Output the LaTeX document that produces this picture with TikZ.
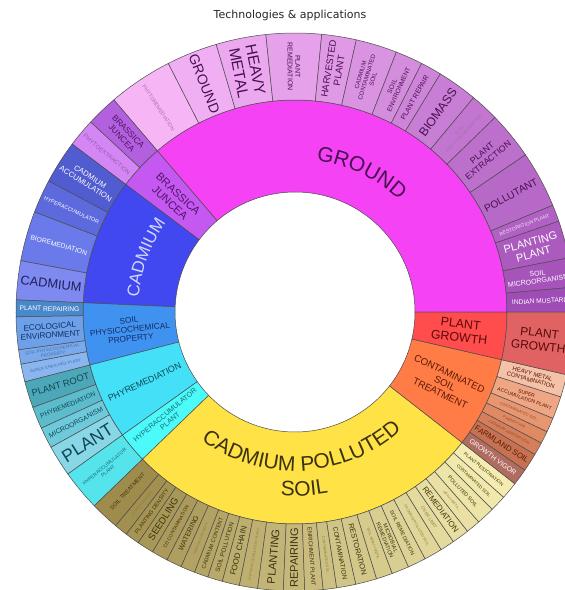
\documentclass[tikz,border=0pt]{standalone}
\usepackage{fontspec}
\setmainfont{Liberation Sans}
\newfontfamily\titlefont{DejaVu Sans}
\usetikzlibrary{decorations.text}

% inner ring colours
\definecolor{gnd}{RGB}{245,66,245}
\definecolor{bras}{RGB}{196,88,240}
\definecolor{cadm}{RGB}{66,72,240}
\definecolor{sphys}{RGB}{64,146,240}
\definecolor{phyr}{RGB}{68,224,248}
\definecolor{hyper}{RGB}{76,250,250}
\definecolor{ysoil}{RGB}{255,226,70}
\definecolor{ctreat}{RGB}{255,124,70}
\definecolor{pgrow}{RGB}{255,76,76}
% outer ring colours
\definecolor{glight}{RGB}{246,182,246}
\definecolor{gdark}{RGB}{160,76,182}
\definecolor{brdark}{RGB}{178,96,222}
\definecolor{brlight}{RGB}{212,134,244}
\definecolor{cd1}{RGB}{80,92,208}
\definecolor{cd2}{RGB}{92,106,222}
\definecolor{cd3}{RGB}{106,122,234}
\definecolor{cd4}{RGB}{126,138,240}
\definecolor{sp1}{RGB}{74,136,204}
\definecolor{sp2}{RGB}{108,160,232}
\definecolor{sp3}{RGB}{122,170,236}
\definecolor{sp4}{RGB}{138,182,240}
\definecolor{ph1}{RGB}{76,168,184}
\definecolor{ph2}{RGB}{92,188,204}
\definecolor{ph3}{RGB}{110,202,218}
\definecolor{ph4}{RGB}{136,214,230}
\definecolor{hy1}{RGB}{86,228,236}
\definecolor{ydark}{RGB}{158,140,76}
\definecolor{ylight}{RGB}{244,236,176}
\definecolor{ct1}{RGB}{176,108,96}
\definecolor{ct2}{RGB}{198,114,82}
\definecolor{ct3}{RGB}{214,126,90}
\definecolor{ct4}{RGB}{224,138,100}
\definecolor{ct5}{RGB}{232,150,112}
\definecolor{ct6}{RGB}{238,166,132}
\definecolor{ct7}{RGB}{244,194,168}
\definecolor{pg1}{RGB}{224,98,98}
% text colours
\definecolor{gtxt}{RGB}{72,16,80}
\definecolor{gfade}{RGB}{170,110,175}
\definecolor{brtxt}{RGB}{80,20,100}
\definecolor{brfade}{RGB}{150,90,180}
\definecolor{cdtxtin}{RGB}{210,215,255}
\definecolor{cdtxt}{RGB}{30,30,90}
\definecolor{sptxt}{RGB}{20,45,100}
\definecolor{spfade}{RGB}{70,110,170}
\definecolor{phtxt}{RGB}{15,70,85}
\definecolor{hytxt}{RGB}{20,110,120}
\definecolor{ytxt}{RGB}{60,50,15}
\definecolor{yfade}{RGB}{140,125,70}
\definecolor{cttxt}{RGB}{90,25,5}
\definecolor{ctfade}{RGB}{150,80,50}
\definecolor{pgtxt}{RGB}{90,10,10}

\tikzset{
  segline/.style={draw=black!70, line width=0.5pt},
  seglabel/.style={inner sep=0pt, align=center},
}

\newcommand{\lfont}[1]{\fontsize{#1}{#1}\linespread{1.1}\selectfont}

% annular wedge: start, end, inner radius, outer radius, fill
\newcommand{\ringseg}[5]{%
  \filldraw[segline, fill=#5] (#1:#3) arc[start angle=#1, end angle=#2, radius=#3pt]
    -- (#2:#4) arc[start angle=#2, end angle=#1, radius=#4pt] -- cycle;}

% radial label: name, start, end, radius, size, colour, text
\newcommand{\radlabel}[7]{%
  \pgfmathsetmacro{\midang}{(#2+#3)/2}%
  \pgfmathsetmacro{\radrot}{ifthenelse(cos(\midang)<0,\midang+180,\midang)}%
  \node[seglabel, text=#6, font=\lfont{#5}, rotate=\radrot] (#1) at (\midang:#4) {#7};}

% outer ring wedge with its label: name, start, end, fill, size, colour, text
\newcommand{\outerpart}[7]{%
  \ringseg{#2}{#3}{212}{279}{#4}%
  \radlabel{#1}{#2}{#3}{245.5}{#5}{#6}{#7}}

\begin{document}
\begin{tikzpicture}[x=1pt, y=1pt]

  % frame in pixels, centre of the rings at the origin
  \useasboundingbox (-295,-278) rectangle (270,312);
  \fill[white] (-295,-278) rectangle (270,312);
  \clip (-295,-278) rectangle (270,312);

  \node[font=\titlefont\fontsize{11}{13}\selectfont, text=black!85] (title) at (-5,297) {Technologies \& applications};

  % 1. GROUND
  \ringseg{0}{130.5}{120}{212}{gnd}
  \path[decorate, decoration={text along path, text align=center, text color=gtxt,
    text={|\lfont{21}|GROUND}}] (110:153) arc[start angle=110, end angle=19, radius=153pt];
  \outerpart{o-phyto}{117}{130.5}{gdark!0!glight}{5.2}{gfade}{PHYTOREMEDIATION}
  \outerpart{o-ground}{106.4}{117}{gdark!7!glight}{14}{gtxt}{GROUND}
  \outerpart{o-heavy}{96}{106.4}{gdark!13!glight}{15.5}{gtxt}{HEAVY\\METAL}
  \outerpart{o-plrem}{84.5}{96}{gdark!20!glight}{7}{gtxt}{PLANT\\REMEDIATION}
  \outerpart{o-harv}{77.3}{84.5}{gdark!27!glight}{9.5}{gtxt}{HARVESTED\\PLANT}
  \outerpart{o-cdsoil}{68.7}{77.3}{gdark!33!glight}{6}{gtxt}{CADMIUM\\CONTAMINATED\\SOIL}
  \outerpart{o-soilenv}{63}{68.7}{gdark!40!glight}{6.5}{gtxt}{SOIL\\ENVIRONMENT}
  \outerpart{o-plrep}{58.6}{63}{gdark!47!glight}{7}{gtxt}{PLANT REPAIR}
  \outerpart{o-biomass}{50.2}{58.6}{gdark!53!glight}{12.3}{gtxt}{BIOMASS}
  \outerpart{o-soilphy}{44.2}{50.2}{gdark!60!glight}{4.8}{gfade}{SOIL\\PHYTOREMEDIATION}
  \outerpart{o-plext}{34.3}{44.2}{gdark!67!glight}{8.7}{gtxt}{PLANT\\EXTRACTION}
  \outerpart{o-pollut}{22.5}{34.3}{gdark!73!glight}{10.2}{gtxt}{POLLUTANT}
  \outerpart{o-restpl}{19}{22.5}{gdark!80!glight}{5}{white!85!gdark}{RESTORATION PLANT}
  \outerpart{o-plpl}{11.2}{19}{gdark!87!glight}{11}{white}{PLANTING\\PLANT}
  \outerpart{o-soilmic}{5.1}{11.2}{gdark!93!glight}{7}{white}{SOIL\\MICROORGANISM}
  \outerpart{o-indian}{0}{5.1}{gdark!100!glight}{6.6}{white}{INDIAN MUSTARD}

  % 2. BRASSICA JUNCEA
  \ringseg{130.5}{143}{120}{212}{bras}
  \radlabel{i-bras}{130.5}{143}{166}{11}{brtxt}{BRASSICA\\JUNCEA}
  \outerpart{o-brass}{130.5}{137.1}{brdark}{8.4}{brtxt}{BRASSICA\\JUNCEA}
  \outerpart{o-phyext}{137.1}{143}{brlight}{6}{brfade}{PHYTOEXTRACTION}

  % 3. CADMIUM
  \ringseg{143}{177.5}{120}{212}{cadm}
  \path[decorate, decoration={text along path, text align=center, text color=cdtxtin,
    text={|\lfont{17}|CADMIUM}}] (190:157) arc[start angle=190, end angle=130, radius=157pt];
  \outerpart{o-cdacc}{143}{152}{cd1}{7.6}{white}{CADMIUM\\ACCUMULATION}
  \outerpart{o-hyper}{152}{159}{cd2}{5.4}{white}{HYPERACCUMULATOR}
  \outerpart{o-biorem}{159}{169.4}{cd3}{6.8}{white}{BIOREMEDIATION}
  \outerpart{o-cadm}{169.4}{177.5}{cd4}{12.8}{cdtxt}{CADMIUM}

  % 4. SOIL PHYSICOCHEMICAL PROPERTY
  \ringseg{177.5}{194.5}{120}{212}{sphys}
  \radlabel{i-sphys}{177.5}{194.5}{166}{8.3}{sptxt}{SOIL\\PHYSICOCHEMICAL\\PROPERTY}
  \outerpart{o-plrepg}{177.5}{181}{sp1}{6.7}{white}{PLANT REPAIRING}
  \outerpart{o-ecol}{181}{187.8}{sp2}{8.1}{sptxt}{ECOLOGICAL\\ENVIRONMENT}
  \outerpart{o-sphys}{187.8}{190.8}{sp3}{4.5}{spfade}{SOIL PHYSICOCHEMICAL\\PROPERTY}
  \outerpart{o-supen}{190.8}{194.5}{sp4}{4.2}{spfade}{SUPER ENRICHED PLANT}

  % 5. PHYREMEDIATION
  \ringseg{194.5}{215.5}{120}{212}{phyr}
  \radlabel{i-phyr}{194.5}{215.5}{166}{8.9}{phtxt}{PHYREMEDIATION}
  \outerpart{o-root}{194.5}{200}{ph1}{9.4}{phtxt}{PLANT ROOT}
  \outerpart{o-phyrem}{200}{204.6}{ph2}{6.6}{phtxt}{PHYREMEDIATION}
  \outerpart{o-micro}{204.6}{209}{ph3}{6.8}{phtxt}{MICROORGANISM}
  \outerpart{o-plant}{209}{215.5}{ph4}{17.6}{phtxt}{PLANT}

  % 6. HYPERACCUMULATOR PLANT
  \ringseg{215.5}{224}{120}{212}{hyper}
  \radlabel{i-hyper}{215.5}{224}{166}{7.2}{hytxt}{HYPERACCUMULATOR\\PLANT}
  \outerpart{o-hypl}{215.5}{224}{hy1}{5}{hytxt}{HYPERACCUMULATOR\\PLANT}

  % 7. CADMIUM POLLUTED SOIL
  \ringseg{224}{322}{120}{212}{ysoil}
  \path[decorate, decoration={text along path, text align=center, text color=ytxt,
    text={|\lfont{21}|CADMIUM POLLUTED}}] (228:159) arc[start angle=228, end angle=318, radius=159pt];
  \path[decorate, decoration={text along path, text align=center, text color=ytxt,
    text={|\lfont{21}|SOIL}}] (248:184) arc[start angle=248, end angle=298, radius=184pt];
  \outerpart{o-y1}{224}{230}{ydark!100!ylight}{5.6}{ytxt}{SOIL TREATMENT}
  \outerpart{o-y2}{230}{232.8}{ydark!96!ylight}{3.5}{yfade}{STRENGTHENING}
  \outerpart{o-y3}{232.8}{235.8}{ydark!92!ylight}{5.6}{ytxt}{PLANTING DENSITY}
  \outerpart{o-y4}{235.8}{239.3}{ydark!88!ylight}{9.5}{ytxt}{SEEDLING}
  \outerpart{o-y5}{239.3}{242.7}{ydark!85!ylight}{4.8}{ytxt}{CD CONTAMINATION}
  \outerpart{o-y6}{242.7}{245.9}{ydark!81!ylight}{7.2}{ytxt}{WATERING}
  \outerpart{o-y7}{245.9}{248.9}{ydark!77!ylight}{3.5}{yfade}{SEEDLING DENSITY}
  \outerpart{o-y8}{248.9}{251.8}{ydark!73!ylight}{5.5}{ytxt}{CADMIUM CONTENT}
  \outerpart{o-y9}{251.8}{254.9}{ydark!69!ylight}{6.2}{ytxt}{SOIL POLLUTION}
  \outerpart{o-y10}{254.9}{258.5}{ydark!65!ylight}{8}{ytxt}{FOOD CHAIN}
  \outerpart{o-y11}{258.5}{262.3}{ydark!62!ylight}{3.6}{yfade}{HYPERACCUMULATOR PLANT}
  \outerpart{o-y12}{262.3}{267.6}{ydark!58!ylight}{11}{ytxt}{PLANTING}
  \outerpart{o-y13}{267.6}{272}{ydark!54!ylight}{11}{ytxt}{REPAIRING}
  \outerpart{o-y14}{272}{275.8}{ydark!50!ylight}{5.8}{ytxt}{ENRICHMENT PLANT}
  \outerpart{o-y15}{275.8}{278.6}{ydark!46!ylight}{3.6}{yfade}{CONTAMINATED SOI...}
  \outerpart{o-y16}{278.6}{282.6}{ydark!42!ylight}{6.5}{ytxt}{CONTAMINATION}
  \outerpart{o-y17}{282.6}{287}{ydark!38!ylight}{7.5}{ytxt}{RESTORATION}
  \outerpart{o-y18}{287}{290.4}{ydark!35!ylight}{3.6}{yfade}{SOIL HEAVY META...}
  \outerpart{o-y19}{290.4}{294}{ydark!31!ylight}{5.5}{ytxt}{MICROBIAL\\REMEDIATION}
  \outerpart{o-y20}{294}{297.8}{ydark!27!ylight}{5.3}{ytxt}{SOIL REMEDIATION}
  \outerpart{o-y21}{297.8}{301.6}{ydark!23!ylight}{3.6}{yfade}{CADMIUM POLLUTED SOIL}
  \outerpart{o-y22}{301.6}{304.6}{ydark!19!ylight}{4.5}{yfade}{OVER LIMIT}
  \outerpart{o-y23}{304.6}{308.2}{ydark!15!ylight}{8}{ytxt}{REMEDIATION}
  \outerpart{o-y24}{308.2}{311.2}{ydark!12!ylight}{3.5}{yfade}{HEAVY META...}
  \outerpart{o-y25}{311.2}{315}{ydark!8!ylight}{5.2}{ytxt}{POLLUTED SOIL}
  \outerpart{o-y26}{315}{318.4}{ydark!4!ylight}{4.3}{ytxt}{CONTAMINATED SOIL}
  \outerpart{o-y27}{318.4}{322}{ydark!0!ylight}{4.7}{ytxt}{PLANT RESTORATION}

  % 8. CONTAMINATED SOIL TREATMENT
  \ringseg{322}{347}{120}{212}{ctreat}
  \radlabel{i-ctreat}{322}{347}{166}{9.8}{cttxt}{CONTAMINATED\\SOIL\\TREATMENT}
  \outerpart{o-c1}{322}{325.5}{ct1}{7}{white}{GROWTH VIGOR}
  \outerpart{o-c2}{325.5}{329.3}{ct2}{7.8}{cttxt}{FARMLAND SOIL}
  \outerpart{o-c3}{329.3}{332}{ct3}{4}{ctfade}{CADMIUM ABSORPTION}
  \outerpart{o-c4}{332}{334.6}{ct4}{4}{ctfade}{PHENOTYPE}
  \outerpart{o-c5}{334.6}{337.6}{ct5}{4}{ctfade}{CONTAMINATED SOI...}
  \outerpart{o-c6}{337.6}{342.3}{ct6}{5}{cttxt}{SUPER\\ACCUMULATION PLANT}
  \outerpart{o-c7}{342.3}{347}{ct7}{6}{cttxt}{HEAVY METAL\\CONTAMINATION}

  % 9. PLANT GROWTH
  \ringseg{347}{360}{120}{212}{pgrow}
  \radlabel{i-pgrow}{347}{360}{166}{12.4}{pgtxt}{PLANT\\GROWTH}
  \outerpart{o-pgrow}{347}{360}{pg1}{12}{pgtxt}{PLANT\\GROWTH}

\end{tikzpicture}
\end{document}
